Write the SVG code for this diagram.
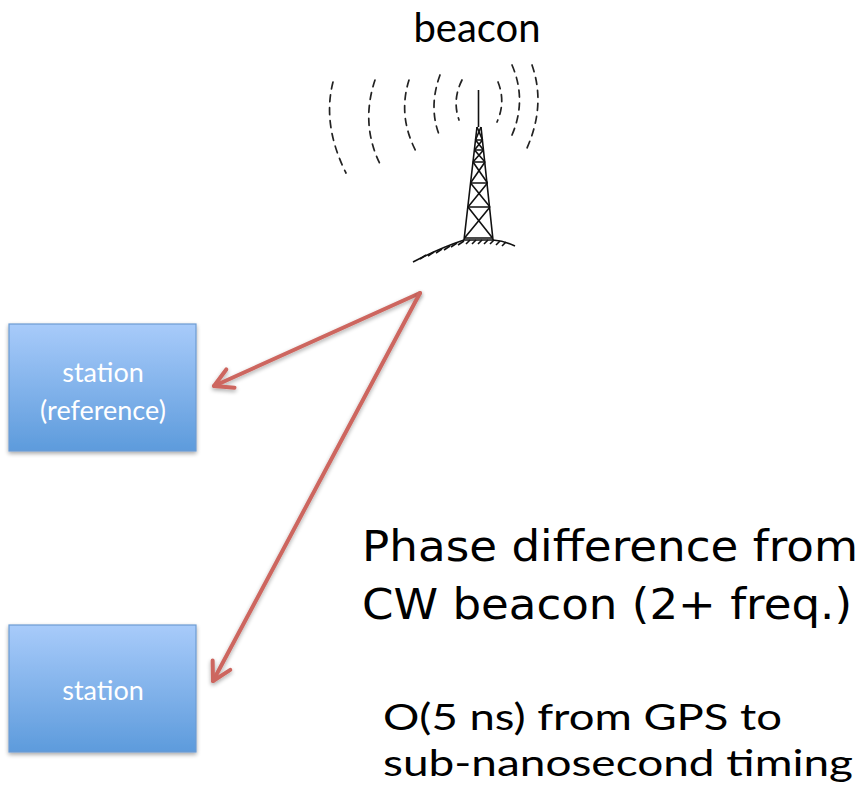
<svg xmlns="http://www.w3.org/2000/svg" width="867" height="799" viewBox="0 0 867 799">
  <style>
    .lbl { font-family: Lato, "Open Sans", "Liberation Sans", sans-serif; fill: #000; }
    .big { font-family: "DejaVu Sans", Verdana, sans-serif; fill: #000; font-size: 42px; }
    .box { fill: url(#boxFill); stroke: #6d9cd2; stroke-width: 1.2; filter: url(#shadow); }
    .boxTxt { font-family: Lato, "Open Sans", sans-serif; font-size: 27px; fill: #fff; text-anchor: middle; }
    .wave { fill: none; stroke: #222; stroke-width: 1.7; stroke-dasharray: 7 6; stroke-linecap: round; }
    .tower { fill: none; stroke: #111; stroke-width: 1.6; stroke-linejoin: round; }
    .conn { fill: none; stroke: #cd665f; stroke-width: 4; stroke-linecap: round; marker-end: url(#arrow); filter: url(#shadow); }
  </style>
  <defs>
    <linearGradient id="boxFill" x1="0" y1="0" x2="0" y2="1">
      <stop offset="0" stop-color="#a8cbfa"/>
      <stop offset="1" stop-color="#5d9bdc"/>
    </linearGradient>
    <filter id="shadow" x="-20%" y="-20%" width="140%" height="140%">
      <feGaussianBlur in="SourceAlpha" stdDeviation="2"/>
      <feOffset dx="0" dy="2" result="b"/>
      <feComponentTransfer><feFuncA type="linear" slope="0.35"/></feComponentTransfer>
      <feMerge><feMergeNode/><feMergeNode in="SourceGraphic"/></feMerge>
    </filter>
    <marker id="arrow" markerUnits="userSpaceOnUse" markerWidth="30" markerHeight="30" viewBox="-22 -15 30 30" refX="0" refY="0" orient="auto">
      <path d="M -18 -10 L 0 0 L -18 10" fill="none" stroke="#cd665f" stroke-width="4" stroke-linecap="round" stroke-linejoin="round"/>
    </marker>
  </defs>

  <rect width="867" height="799" fill="#fff"/>

  <!-- beacon tower -->
  <g id="beacon">
    <text class="lbl" x="477" y="42" font-size="40" text-anchor="middle">beacon</text>
    <!-- radio waves -->
    <path class="wave" d="M 333 82 Q 322 125 346 173"/>
    <path class="wave" d="M 375 80 Q 360 125 381 166"/>
    <path class="wave" d="M 409 80 Q 397 118 418 155"/>
    <path class="wave" d="M 440 75 Q 428 108 440 137"/>
    <path class="wave" d="M 462 80 Q 452 100 459 120"/>
    <path class="wave" d="M 498 82 Q 506 102 497 122"/>
    <path class="wave" d="M 512 65 Q 527 100 512 135"/>
    <path class="wave" d="M 532 65 Q 546 105 527 148"/>
    <!-- mast and lattice -->
    <path class="tower" d="M 478.5 90 L 478.5 127"/>
    <path class="tower" d="M 477 127 L 464 240 M 481 127 L 493 240"/>
    <path class="tower" d="M 475.5 140 L 482.5 140 M 474.5 150 L 483.5 150 M 473 162 L 485 162 M 470.5 183 L 487.5 183 M 468 207 L 490 207 M 464.5 238 L 492.5 238"/>
    <path class="tower" d="M 477 127 L 482.5 140 M 481 127 L 475.5 140 M 475.5 140 L 483.5 150 M 482.5 140 L 474.5 150 M 474.5 150 L 485 162 M 483.5 150 L 473 162 M 473 162 L 487.5 183 M 485 162 L 470.5 183 M 470.5 183 L 490 207 M 487.5 183 L 468 207 M 468 207 L 492.5 238 M 490 207 L 464.5 238"/>
    <!-- ground mound -->
    <path class="tower" d="M 413 262 Q 440 248 464 240 L 493 240 Q 505 241 515 246"/>
    <path class="tower" stroke-width="1.1" d="M 420 259 L 426 255 M 428 256 L 434 252 M 436 253 L 442 249 M 444 250 L 450 246 M 451 247 L 457 243 M 458 245 L 464 241 M 466 244 L 470 240 M 472 244 L 476 240 M 478 244 L 482 240 M 484 244 L 488 240 M 490 244 L 494 240 M 496 245 L 500 241 M 502 246 L 506 242"/>
  </g>

  <!-- stations -->
  <g id="station-ref">
    <rect class="box" x="9" y="324" width="187" height="127"/>
    <text class="boxTxt" x="103" y="382">station</text>
    <text class="boxTxt" x="103" y="420">(reference)</text>
  </g>
  <g id="station">
    <rect class="box" x="9" y="625" width="187" height="127"/>
    <text class="boxTxt" x="103" y="700">station</text>
  </g>

  <!-- signal paths from beacon -->
  <g id="connectors">
    <path class="conn" d="M 420 293 L 214 386"/>
    <path class="conn" d="M 420 293 L 213 681"/>
  </g>

  <!-- notes -->
  <g id="notes">
    <text class="big" x="362" y="561" textLength="496" lengthAdjust="spacingAndGlyphs">Phase difference from</text>
    <text class="big" x="362" y="619" textLength="490" lengthAdjust="spacingAndGlyphs">CW beacon (2+ freq.)</text>
    <text class="lbl" x="383" y="730" font-size="37" textLength="399" lengthAdjust="spacingAndGlyphs">O(5 ns) from GPS to</text>
    <text class="lbl" x="383" y="776" font-size="37" textLength="470" lengthAdjust="spacingAndGlyphs">sub-nanosecond timing</text>
  </g>
</svg>
